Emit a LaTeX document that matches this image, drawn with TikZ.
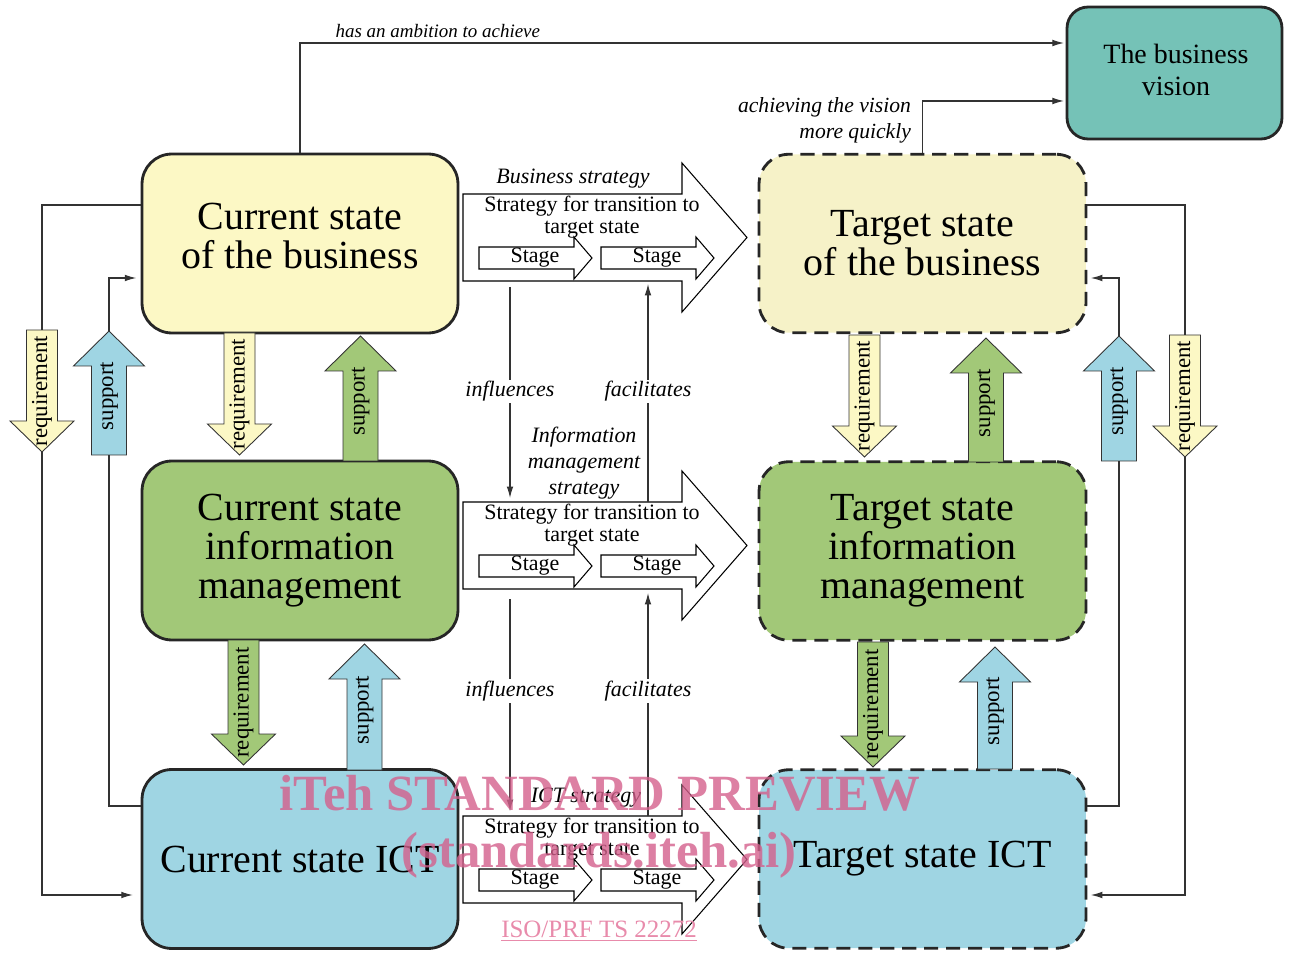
\documentclass[tikz,border=0pt]{standalone}
\usepackage{fontspec}
\setmainfont{Liberation Serif}
\usepackage{tikz}
\usetikzlibrary{arrows.meta,calc,positioning}
\definecolor{bizyellow}{HTML}{FCF8C5}
\definecolor{tgtyellow}{HTML}{F6F2C8}
\definecolor{imgreen}{HTML}{A2C878}
\definecolor{ictblue}{HTML}{9FD5E3}
\definecolor{visteal}{HTML}{75C2B7}
\definecolor{wmpink}{HTML}{D4608C}
\definecolor{wmlight}{HTML}{E88BAB}

\begin{document}
\begin{tikzpicture}[x=0.02cm,y=-0.02cm,>={Latex[length=6.5pt,width=3.8pt]},
  statebox/.style={draw=black!85,line width=1.6pt,rounded corners=17pt,align=center,inner sep=0pt,font=\fontsize{22.7}{22.1}\selectfont},
  curbox/.style={statebox,minimum width=6.32cm,minimum height=3.58cm},
  tgtbox/.style={statebox,dash pattern=on 8pt off 4.5pt,minimum width=6.54cm,minimum height=3.57cm},
  bigtxt/.style={align=center,inner sep=0pt,font=\fontsize{22.7}{22.1}\selectfont},
  conn/.style={draw=black!80,line width=0.6pt},
  blk/.style={draw=black!80,line width=0.5pt},
  strat/.style={draw=black,line width=0.6pt,fill=white},
  small/.style={font=\fontsize{12.5}{12.5}\selectfont,inner sep=1pt},
  lbl/.style={font=\fontsize{12.5}{14.7}\selectfont\itshape,inner sep=1pt},
  arrtxt/.style={font=\fontsize{13}{13}\selectfont,inner sep=0pt,rotate=90}]
\useasboundingbox (0,0) rectangle (1289,959);

% state boxes
\node[curbox,fill=bizyellow] (cb) at (300,243.5) {};
\node[bigtxt] (cb-txt) at (300,236) {Current state\\of the business};
\node[curbox,fill=imgreen] (ci) at (300,550.5) {Current state\\information\\management};
\node[curbox,fill=ictblue] (ct) at (300,859) {Current state ICT};
\node[tgtbox,fill=tgtyellow] (tb) at (922.5,243.5) {Target state\\of the business};
\node[tgtbox,fill=imgreen] (ti) at (922.5,551) {Target state\\information\\management};
\node[tgtbox,fill=ictblue] (tt) at (922.5,859) {Target state ICT};
\node[curbox,fill=visteal,minimum width=4.3cm,minimum height=2.64cm,rounded corners=12pt] (vis) at (1174.5,73) {};
\node[bigtxt,font=\fontsize{15.9}{18.1}\selectfont] (vis-txt) at (1176,70) {The business\\vision};

% strategy arrows
\foreach \i/\dy in {1/0,2/308,3/622}{
  \begin{scope}[shift={(0,\dy)}]
    \draw[strat] (463,194) -- (682,194) -- (682,163) -- (747,237.5) -- (682,312) -- (682,281) -- (463,281) -- cycle;
    \foreach \sx in {479,601}{
      \draw[strat] (\sx,247) -- ({\sx+95},247) -- ({\sx+95},237) -- ({\sx+113},258) -- ({\sx+95},279) -- ({\sx+95},269) -- (\sx,269) -- cycle;
      \node[small] (s\i-stage\sx) at ({\sx+56},258) {Stage};
    }
    \node[small,align=center] (s\i-text) at (592,217) {Strategy for transition to\\target state};
    \coordinate (s\i-infout) at (510,281);
    \coordinate (s\i-infin) at (510,194);
    \coordinate (s\i-facout) at (648,194);
    \coordinate (s\i-facin) at (648,281);
  \end{scope}
}
\node[lbl] (t1) at (573,179) {Business strategy};
\node[lbl,align=center] (t2) at (584,463) {Information\\management\\strategy};
\node[lbl] (t3) at (586,798) {ICT strategy};

\draw[conn,->,shorten <=3.4pt,shorten >=2.3pt] (s1-infout) -- node[lbl,fill=white] (inf1) {influences} (s2-infin);
\draw[conn,->,shorten >=1.7pt] (s2-facout) -- node[lbl,fill=white] (fac1) {facilitates} (s1-facin);
\draw[conn,->,shorten <=5.7pt,shorten >=2.8pt] (s2-infout) -- node[lbl,fill=white,pos=0.45] (inf2) {influences} (s3-infin);
\draw[conn,->,shorten >=2.3pt] (s3-facout) -- node[lbl,fill=white,pos=0.55] (fac2) {facilitates} (s2-facin);

% block arrows
\foreach \nm/\cx/\ya/\yb/\col in {lreq/42/330/452/bizyellow,creq1/239.5/333/455/bizyellow,creq2/243.5/640/765/imgreen,treq1/864.5/335/457/bizyellow,treq2/873/642/767/imgreen,rreq/1185/335/457/bizyellow}{
  \draw[blk,fill=\col] ({\cx-15.5},\ya) -- ({\cx+15.5},\ya) -- ({\cx+15.5},{\yb-31}) -- ({\cx+32},{\yb-31}) -- (\cx,\yb) -- ({\cx-32},{\yb-31}) -- ({\cx-15.5},{\yb-31}) -- cycle;
  \coordinate (\nm-tail) at (\cx,\ya);
  \coordinate (\nm-tip) at (\cx,\yb);
  \node[arrtxt] (\nm-txt) at (\cx,{(\ya+\yb)/2}) {requirement};
}
\foreach \nm/\cx/\ya/\yb/\col in {lsup/109/455/331/ictblue,csup1/360.5/461/336/imgreen,csup2/364.5/770/644/ictblue,tsup1/986/462/338/imgreen,tsup2/995/769/647/ictblue,rsup/1119/461/336/ictblue}{
  \draw[blk,fill=\col] ({\cx-17.5},\ya) -- ({\cx+17.5},\ya) -- ({\cx+17.5},{\yb+35}) -- ({\cx+35.5},{\yb+35}) -- (\cx,\yb) -- ({\cx-35.5},{\yb+35}) -- ({\cx-17.5},{\yb+35}) -- cycle;
  \coordinate (\nm-tail) at (\cx,\ya);
  \coordinate (\nm-tip) at (\cx,\yb);
  \node[arrtxt] (\nm-txt) at (\cx,{(\ya+\yb)/2+3}) {support};
}

% side connectors
\draw[conn] (cb.west |- 0,205) -| (lreq-tail);
\draw[conn,->,shorten >=4.5pt] (lreq-tip) |- (ct.west |- 0,895);
\draw[conn] (ct.west |- 0,806) -| (lsup-tail);
\draw[conn,->,shorten >=2.5pt] (lsup-tip) |- (cb.west |- 0,278);
\draw[conn] (tb.east |- 0,205) -| (rreq-tail);
\draw[conn,->,shorten >=2pt] (rreq-tip) |- (tt.east |- 0,895);
\draw[conn] (tt.east |- 0,806) -| (rsup-tail);
\draw[conn,->,shorten >=2pt] (rsup-tip) |- (tb.east |- 0,278);

% vision
\draw[conn,->,shorten >=1pt] (cb.north) |- node[lbl,pos=0.59,above,yshift=2pt,font=\fontsize{10.8}{10.8}\selectfont\itshape] (amb) {has an ambition to achieve} ([yshift=0.6cm]vis.west);
\draw[conn,->,shorten >=1pt] (tb.north) |- ([yshift=-0.56cm]vis.west);
\node[lbl,align=right,anchor=east,font=\fontsize{12.3}{14.7}\selectfont\itshape] (ach) at (913,120) {achieving the vision\\more quickly};

% watermark
\node[font=\fontsize{28.9}{28.9}\selectfont\bfseries,text=wmpink,opacity=0.8] (wm1) at (600,793) {iTeh STANDARD PREVIEW};
\node[font=\fontsize{28.9}{28.9}\selectfont\bfseries,text=wmpink,opacity=0.8] (wm2) at (599,855) {(standards.iteh.ai)};
\node[font=\fontsize{14.2}{14.2}\selectfont,text=wmlight] (wm3) at (599,931) {\underline{ISO/PRF TS 22272}};
\end{tikzpicture}
\end{document}
